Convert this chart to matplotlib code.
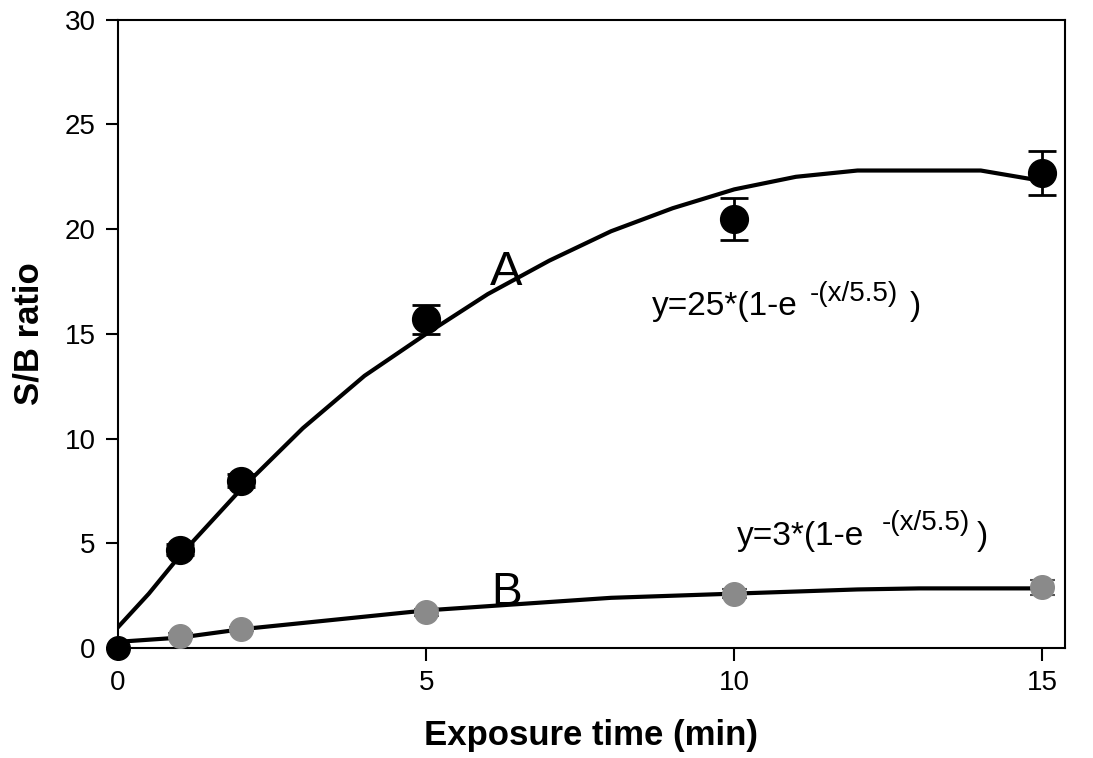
import matplotlib
matplotlib.use("Agg")
import matplotlib.pyplot as plt

plt.rcParams["font.family"] = ["Liberation Sans", "DejaVu Sans"]

# measured points
time_min = [1, 2, 5, 10, 15]
sb_a = [4.7, 8.0, 15.7, 20.5, 22.7]
err_a = [0.25, 0.3, 0.7, 1.0, 1.05]
sb_b = [0.6, 0.9, 1.7, 2.6, 2.9]
err_b = [0.1, 0.1, 0.15, 0.2, 0.35]

# fitted curves as drawn
fit_x = [0, 0.5, 1, 2, 3, 4, 5, 6, 7, 8, 9, 10, 11, 12, 13, 14, 15]
fit_a = [1.0, 2.6, 4.4, 7.6, 10.5, 13.0, 15.0, 16.9, 18.5, 19.9, 21.0, 21.9,
         22.5, 22.8, 22.8, 22.8, 22.3]
fit_b = [0.3, 0.4, 0.5, 0.9, 1.2, 1.5, 1.8, 2.0, 2.2, 2.4, 2.5, 2.6,
         2.7, 2.8, 2.85, 2.85, 2.85]

fig = plt.figure(figsize=(10.93, 7.58), dpi=100)
ax = fig.add_axes([0.108, 0.145, 0.866, 0.829])

ax.plot(fit_x, fit_a, "-", color="black", lw=3, zorder=2)
ax.plot(fit_x, fit_b, "-", color="black", lw=3, zorder=2)

ax.errorbar(time_min, sb_a, yerr=err_a, fmt="o", color="black", ms=20,
            capsize=10, elinewidth=2, capthick=2, zorder=3)
ax.errorbar(time_min, sb_b, yerr=err_b, fmt="o", color="#8a8a8a", ecolor="#555555",
            ms=17, capsize=9, elinewidth=1.5, capthick=1.5, zorder=3)
ax.plot([0], [0], "o", color="black", ms=17, clip_on=False, zorder=4)

ax.text(6.03, 17.35, "A", fontsize=35, va="baseline")
ax.text(6.06, 2.05, "B", fontsize=33, va="baseline")

# equations, superscript set by hand so the minus stays a hyphen
ax.text(8.66, 15.9, "y=25*(1-e", fontsize=24, va="baseline")
ax.text(11.22, 16.55, "-(x/5.5)", fontsize=20, va="baseline")
ax.text(12.85, 15.9, ")", fontsize=24, va="baseline")
ax.text(10.05, 4.92, "y=3*(1-e", fontsize=24, va="baseline")
ax.text(12.4, 5.64, "-(x/5.5)", fontsize=20, va="baseline")
ax.text(13.93, 4.92, ")", fontsize=24, va="baseline")

ax.set_xlim(0, 15.36)
ax.set_ylim(0, 30)
ax.set_xticks([0, 5, 10, 15])
ax.set_yticks([0, 5, 10, 15, 20, 25, 30])
ax.tick_params(labelsize=20, length=9, width=1.5, direction="out", pad=7)
for s in ax.spines.values():
    s.set_linewidth(1.5)

ax.set_xlabel("Exposure time (min)", fontsize=25, fontweight="bold", labelpad=16)
ax.set_ylabel("S/B ratio", fontsize=25, fontweight="bold", labelpad=14)

fig.savefig("out.png", dpi=100)
